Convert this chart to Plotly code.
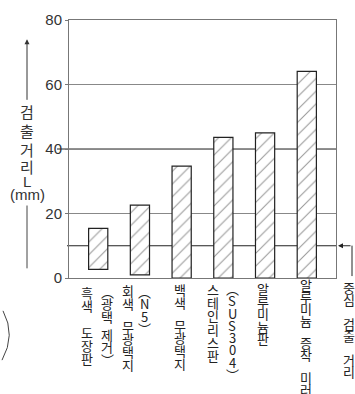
import plotly.graph_objects as go

# Detection distance range (mm) per target material: bar bottom and top
bar_bottom = [2.7, 1.0, 0.0, 0.0, 0.0, 0.0]
bar_top = [15.4, 22.6, 34.7, 43.6, 45.0, 64.1]
categories = ["흑색 도장판", "회색 무광택지", "백색 무광택지", "스테인리스판", "알루미늄판", "알루미늄 증착 미러"]
center_distance = 10
y_ticks = [0, 20, 40, 60, 80]

# Vertical label columns: (category index, x offset px, text, first-row y px, row pitch, space gap)
label_columns = [
    (0, -11, "흑색 도장판", 293, 13.5, 14),
    (0, 9, "(광택 제거)", 292, 12.8, 6),
    (1, -12, "회색 무광택지", 291, 13.0, 11),
    (1, 5, "(N5)", 292, 12.8, 6),
    (2, -2, "백색 무광택지", 290, 13.0, 11),
    (3, -10, "스테인리스판", 290, 13.6, 6),
    (3, 9, "(SUS304)", 289, 12.7, 6),
    (4, -2, "알루미늄판", 289, 13.0, 6),
    (5, -1, "알루미늄 증착 미러", 285, 12.3, 11),
]
right_label = "중심 검출 거리"
y_title_lines = ["검", "출", "거", "리", "L", "(mm)"]

W, H = 355, 394
L, T, PW, PH = 69, 11, 267, 267
KR = "Noto Sans CJK KR"
INK = "#222"
FRAME = "#777"


def px_x(px):
    return (px - L) / PW


def px_y(py):
    return (T + PH - py) / PH


VERT = {"(": "︵", ")": "︶"}

fig = go.Figure()
fig.add_trace(go.Bar(
    x=list(range(len(categories))),
    y=[t - b for t, b in zip(bar_top, bar_bottom)],
    base=bar_bottom,
    width=0.46,
    marker=dict(
        color="white",
        line=dict(color=INK, width=1.2),
        pattern=dict(shape="/", fgcolor="#333", bgcolor="white", size=9, solidity=0.12),
    ),
    hovertext=categories,
    showlegend=False,
))

shapes = [
    # dark reference lines at 40 and at the center detection distance
    dict(type="line", xref="paper", yref="y", x0=px_x(57), x1=1, y0=40, y1=40,
         line=dict(color=INK, width=1), layer="below"),
    dict(type="line", xref="paper", yref="y", x0=px_x(67), x1=1, y0=center_distance, y1=center_distance,
         line=dict(color=INK, width=1), layer="below"),
    # leader from the right-hand label up to the arrow
    dict(type="line", xref="paper", yref="paper", x0=px_x(352), x1=px_x(352),
         y0=px_y(244.5), y1=px_y(276), line=dict(color=INK, width=1)),
    # lower part of the axis-title arrow
    dict(type="line", xref="paper", yref="paper", x0=px_x(27), x1=px_x(27),
         y0=px_y(203), y1=px_y(268), line=dict(color="#444", width=1)),
    # bracket at the lower left
    dict(type="path", xref="paper", yref="paper",
         path=f"M {px_x(3)},{px_y(312)} Q {px_x(16)},{px_y(337)} {px_x(2)},{px_y(363)}",
         line=dict(color="#444", width=1)),
]

annotations = []


def add_column(xref, x, xshift, text, y0, pitch, gap, size=13):
    y = y0
    for ch in text:
        if ch == " ":
            y += gap
            continue
        annotations.append(dict(
            xref=xref, yref="paper", x=x, xshift=xshift, y=px_y(y),
            text=VERT.get(ch, ch), showarrow=False, xanchor="center", yanchor="middle",
            borderpad=0,
            font=dict(family=KR, size=size, color=INK),
        ))
        y += pitch


for idx, dx, text, y0, pitch, gap in label_columns:
    add_column("x", idx, dx, text, y0, pitch, gap)

add_column("paper", px_x(349), 0, right_label, 288, 12.5, 12)

# stacked axis title
title_y = [106, 125, 145, 163, 178, 192]
for ch, ty in zip(y_title_lines, title_y):
    annotations.append(dict(
        xref="paper", yref="paper", x=px_x(27), y=px_y(ty),
        text=ch, showarrow=False, xanchor="center", yanchor="middle",
        font=dict(family=KR if ch not in ("L", "(mm)") else "Liberation Sans", size=15, color="#333"),
    ))

# upward arrow of the axis title
annotations.append(dict(
    xref="paper", yref="paper", x=px_x(27), y=px_y(31), ax=0, ay=62,
    text="", showarrow=True, arrowhead=2, arrowsize=1, arrowwidth=1, arrowcolor="#333",
))
# arrow pointing at the center detection distance
annotations.append(dict(
    xref="paper", yref="y", x=px_x(338), y=center_distance, ax=14, ay=0,
    text="", showarrow=True, arrowhead=2, arrowsize=1, arrowwidth=1, arrowcolor=INK,
))

fig.update_layout(
    width=W, height=H,
    margin=dict(l=L, r=W - L - PW, t=T, b=H - T - PH, pad=0),
    paper_bgcolor="white", plot_bgcolor="white",
    shapes=shapes, annotations=annotations,
    bargap=0.5,
    xaxis=dict(range=[-0.7, 5.7], showticklabels=False, ticks="", showgrid=False,
               zeroline=False, showline=True, linecolor=FRAME, linewidth=1, mirror=True,
               fixedrange=True),
    yaxis=dict(range=[0, 80], tickvals=y_ticks, ticks="outside", ticklen=3, tickcolor=FRAME,
               showgrid=True, gridcolor="#888", gridwidth=1, zeroline=False,
               showline=True, linecolor=FRAME, linewidth=1, mirror=True,
               tickfont=dict(family="Liberation Sans", size=15, color="#333"),
               fixedrange=True),
)

fig.write_html("out.html")
